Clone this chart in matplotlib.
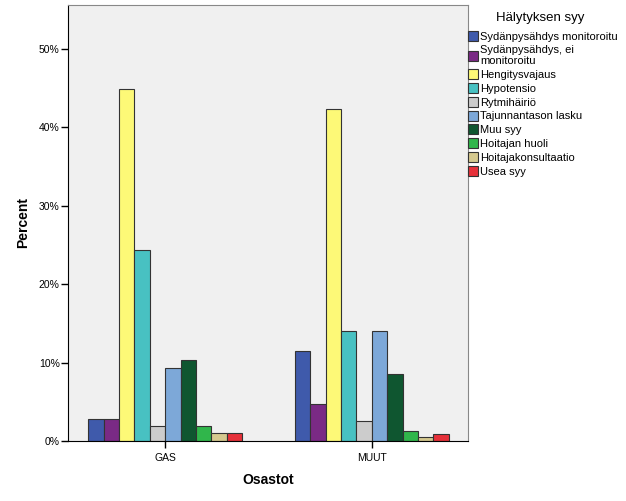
import matplotlib
matplotlib.use("Agg")
from matplotlib import pyplot as plt
from matplotlib.ticker import PercentFormatter
import numpy as np

plt.rcParams['font.family'] = ['Liberation Sans', 'DejaVu Sans']

osastot = ["GAS", "MUUT"]
syyt = [
    "Sydänpysähdys monitoroitu",
    "Sydänpysähdys, ei\nmonitoroitu",
    "Hengitysvajaus",
    "Hypotensio",
    "Rytmihäiriö",
    "Tajunnantason lasku",
    "Muu syy",
    "Hoitajan huoli",
    "Hoitajakonsultaatio",
    "Usea syy",
]
gas = [2.8, 2.8, 44.9, 24.3, 1.9, 9.3, 10.3, 1.9, 1.0, 1.0]
muut = [11.5, 4.7, 42.3, 14.0, 2.6, 14.0, 8.5, 1.3, 0.5, 0.9]
colors = ["#3F5AAB", "#7A2A85", "#FDF977", "#48C1C2", "#CCCCCC",
          "#7DA8D8", "#0F5630", "#30B64B", "#D5C98F", "#E6313A"]

fig = plt.figure(figsize=(6.26, 5.01), dpi=100)
ax = fig.add_axes([0.1086, 0.1198, 0.639, 0.8702])
ax.set_facecolor("#F0F0F0")

x = np.arange(len(osastot))
w = 0.0744
vals = np.array([gas, muut])
for i, syy in enumerate(syyt):
    ax.bar(x + (i - 4.5) * w, vals[:, i], width=w, color=colors[i],
           edgecolor="#333333", linewidth=0.8, label=syy, zorder=2)

ax.set_xlim(-0.47, 1.465)
ax.set_ylim(0, 55.6)
ax.set_yticks([0, 10, 20, 30, 40, 50])
ax.yaxis.set_major_formatter(PercentFormatter(decimals=0))
ax.set_xticks(x)
ax.set_xticklabels(osastot)
ax.tick_params(labelsize=7.5, length=5, width=1, colors="black")
ax.tick_params(axis="y", pad=1)

for side in ["left", "bottom"]:
    ax.spines[side].set_color("black")
for side in ["top", "right"]:
    ax.spines[side].set_color("#888888")

ax.set_ylabel("Percent", fontsize=10, fontweight="bold", labelpad=6)
ax.set_xlabel("Osastot", fontsize=10, fontweight="bold", labelpad=7)

# legend title sits centred above the entries
fig.text(540 / 626, 1 - 18 / 501, "Hälytyksen syy", fontsize=9.5,
         ha="center", va="center")
leg = fig.legend(loc="upper left", bbox_to_anchor=(0.747, 1 - 31 / 501),
                 fontsize=8, frameon=False, handlelength=0.9,
                 handleheight=1.0, handletextpad=0.2, labelspacing=0.27,
                 borderaxespad=0, borderpad=0)
for h in leg.legend_handles:
    h.set_linewidth(0.8)

plt.savefig("out.png", dpi=100)
